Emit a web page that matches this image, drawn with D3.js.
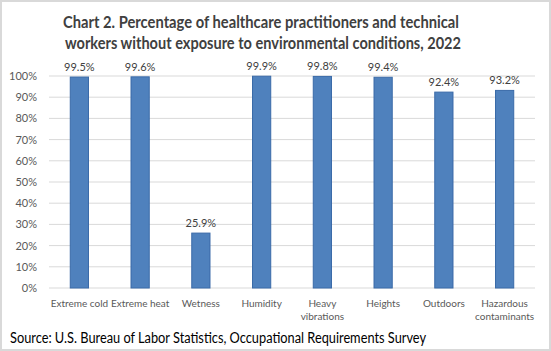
<!DOCTYPE html>
<html>
<head>
<meta charset="utf-8">
<script src="https://cdn.jsdelivr.net/npm/d3@7"></script>
<style>
  body { margin: 0; background: #fff; }
  svg { display: block; font-family: Lato, "Open Sans", sans-serif; }
</style>
</head>
<body>
<div id="chart"></div>
<script>
// data
var categories = ["Extreme cold", "Extreme heat", "Wetness", "Humidity", "Heavy vibrations", "Heights", "Outdoors", "Hazardous contaminants"];
var catLines = [["Extreme cold"], ["Extreme heat"], ["Wetness"], ["Humidity"], ["Heavy", "vibrations"], ["Heights"], ["Outdoors"], ["Hazardous", "contaminants"]];
var values = [99.5, 99.6, 25.9, 99.9, 99.8, 99.4, 92.4, 93.2];
var yTicks = [0, 10, 20, 30, 40, 50, 60, 70, 80, 90, 100];

var W = 551, H = 351;
var margin = {top: 76, right: 16, bottom: 63, left: 49},
  width = W - margin.left - margin.right,
  height = H - margin.top - margin.bottom;

var svg = d3.select("#chart").append("svg")
  .attr("width", W)
  .attr("height", H);

// outer border
svg.append("rect")
  .attr("x", 1).attr("y", 1)
  .attr("width", W - 2).attr("height", H - 2)
  .attr("fill", "#fff")
  .attr("stroke", "#d9d9d9")
  .attr("stroke-width", 2);

// title
var title = svg.append("text")
  .attr("text-anchor", "middle")
  .attr("font-weight", "bold")
  .attr("font-size", 17)
  .attr("fill", "#404040");
title.append("tspan").attr("x", 261).attr("y", 28)
  .attr("textLength", 396).attr("lengthAdjust", "spacingAndGlyphs")
  .text("Chart 2. Percentage of healthcare practitioners and technical");
title.append("tspan").attr("x", 263).attr("y", 49)
  .attr("textLength", 396).attr("lengthAdjust", "spacingAndGlyphs")
  .text("workers without exposure to environmental conditions, 2022");

var g = svg.append("g")
  .attr("transform", "translate(" + margin.left + "," + margin.top + ")");

var x = d3.scaleBand()
  .domain(categories)
  .range([0, width])
  .paddingInner(0.7)
  .paddingOuter(0.35);

var y = d3.scaleLinear()
  .domain([0, 100])
  .range([height, 0]);

// gridlines
g.append("g")
  .selectAll("line")
  .data(yTicks)
  .join("line")
  .attr("x1", 0).attr("x2", width)
  .attr("y1", function(d) { return y(d); })
  .attr("y2", function(d) { return y(d); })
  .attr("stroke", "#d9d9d9")
  .attr("stroke-width", 1);

// y axis
var yAxis = g.append("g")
  .call(d3.axisLeft(y).tickValues(yTicks).tickSize(0).tickPadding(12)
    .tickFormat(function(d) { return d + "%"; }));
yAxis.select(".domain").remove();
yAxis.selectAll("text")
  .attr("font-family", "Lato, sans-serif")
  .attr("font-size", 11)
  .attr("fill", "#595959");

// bars
g.selectAll("rect.bar")
  .data(values)
  .join("rect")
  .attr("class", "bar")
  .attr("x", function(d, i) { return x(categories[i]); })
  .attr("y", function(d) { return y(d); })
  .attr("width", x.bandwidth())
  .attr("height", function(d) { return height - y(d); })
  .attr("fill", "#4f81bd")
  .attr("stroke", "#3a6aa8")
  .attr("stroke-width", 1);

// value labels
g.selectAll("text.val")
  .data(values)
  .join("text")
  .attr("class", "val")
  .attr("x", function(d, i) { return x(categories[i]) + x.bandwidth() / 2; })
  .attr("y", function(d) { return y(d) - 6; })
  .attr("text-anchor", "middle")
  .attr("font-size", 11)
  .attr("fill", "#404040")
  .text(function(d) { return d.toFixed(1) + "%"; });

// x axis labels
var xl = g.selectAll("text.xl")
  .data(categories)
  .join("text")
  .attr("class", "xl")
  .attr("text-anchor", "middle")
  .attr("font-size", 10)
  .attr("fill", "#595959");
xl.each(function(d, i) {
  var t = d3.select(this);
  catLines[i].forEach(function(line, j) {
    t.append("tspan")
      .attr("x", x(d) + x.bandwidth() / 2)
      .attr("y", height + 19 + j * 13)
      .text(line);
  });
});

// source
svg.append("text")
  .attr("x", 10).attr("y", 343)
  .attr("font-size", 14.5)
  .attr("fill", "#000")
  .attr("textLength", 416).attr("lengthAdjust", "spacingAndGlyphs")
  .text("Source: U.S. Bureau of Labor Statistics, Occupational Requirements Survey");
</script>
</body>
</html>
